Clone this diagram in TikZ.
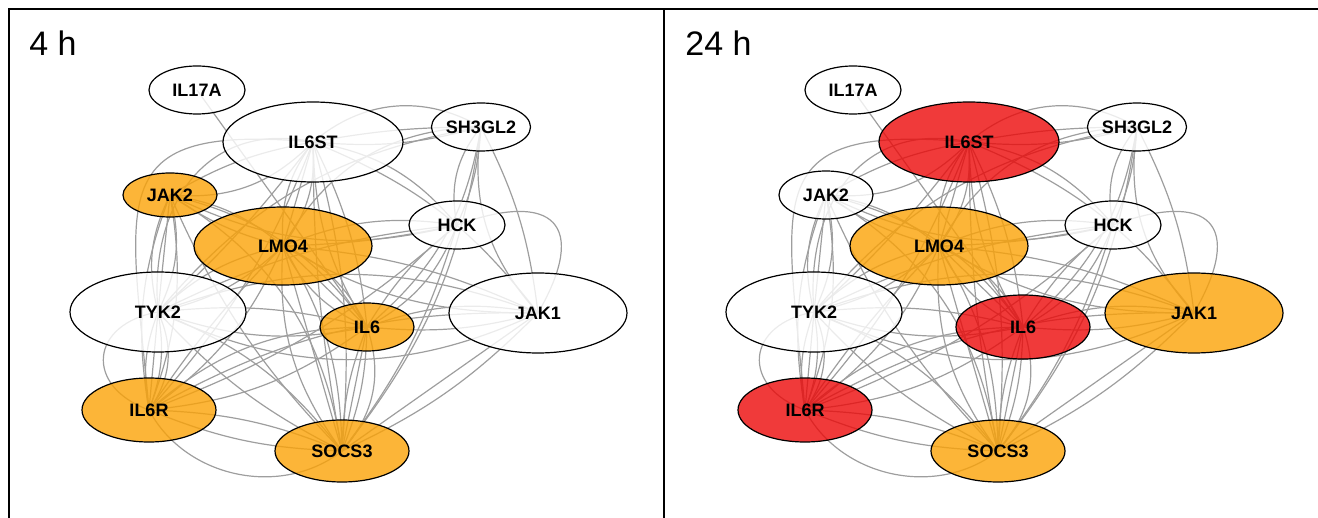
\documentclass[tikz,border=0pt]{standalone}
\usepackage{fontspec}
\setmainfont{Liberation Sans}
\usetikzlibrary{shapes.geometric,backgrounds}
% fill colours pre-compensated for fill opacity 0.8 over white
\definecolor{og}{RGB}{251,162,6}
\definecolor{rd}{RGB}{236,9,9}
\definecolor{eg}{RGB}{158,158,158}
\newcommand\labfont{\fontsize{9}{10}\selectfont\bfseries}
\tikzset{
 gn/.style={ellipse,draw=black,line width=0.6pt,inner sep=0pt,font=\labfont,fill=white,fill opacity=0.8,text opacity=1},
 ed/.style={draw=eg,line width=0.6pt},
 ttl/.style={anchor=west,font=\fontsize{17}{19}\selectfont,inner sep=0pt},
 frame/.style={line width=1pt,line cap=rect}
}
\newcommand\netedges{%
 \foreach \u/\v/\b in {a/i6/0,
   st/sh/35, st/sh/5, st/sh/-10, st/j2/-10, st/j2/25,
   st/lm/0, st/lm/20, st/lm/-20, st/ty/5, st/i6/10, st/i6/-15, st/so/10, st/so/-5,
   st/r/10, st/hc/20, st/j1/15,
   sh/hc/10, sh/hc/-25, sh/j1/-25, sh/j1/10, sh/i6/20, sh/so/15, sh/lm/-30, sh/ty/-20,
   hc/lm/5, hc/lm/-15, hc/i6/20, hc/i6/-10, hc/so/10, hc/r/10, hc/ty/-10,
   j2/lm/15, j2/lm/-10, j2/ty/20, j2/ty/-20, j2/ty/0, j2/r/15, j2/r/-15,
   j2/i6/20, j2/so/25, j2/so/-10, j2/hc/-20,
   lm/ty/15, lm/ty/-15, lm/i6/20, lm/i6/-20, lm/i6/0, lm/r/15, lm/r/-5,
   lm/so/15, lm/so/-20, lm/so/0, lm/j1/10, lm/j1/-15,
   ty/r/15, ty/r/-15, ty/r/0, ty/r/30, ty/i6/10, ty/i6/-15, ty/so/15, ty/so/-10, ty/j1/-25, ty/j1/20,
   i6/j1/15, i6/j1/-10, i6/so/10, i6/so/-10, i6/so/0, i6/so/30, i6/r/15, i6/r/-20,
   j1/so/0, j1/so/10, j1/r/-15,
   r/so/10, r/so/-10, r/so/-50}
   \draw[ed] (n\u.center) to[bend left=\b] (n\v.center);
 \draw[ed] (nst.center) to[out=175,in=95,looseness=1.75] (nr.center);
 \draw[ed] (nst.center) to[out=168,in=95,looseness=1.2] (nty.center);
 \draw[ed] (nhc.center) to[out=20,in=60,looseness=2.2] (nj1.center);
 \draw[ed] (nty.center) to[out=190,in=160,looseness=1.8] (nr.center);
}
\begin{document}
\begin{tikzpicture}[x=0.5pt,y=-0.5pt]
\useasboundingbox (0,0) rectangle (1318,518);
% frames
\coordinate (fbl) at (9,518);
\coordinate (ftl) at (9,9);
\coordinate (ftr) at (1318,9);
\coordinate (dtop) at (664,9);
\coordinate (dbot) at (664,518);
\draw[frame] (fbl) -- (ftl) -- (ftr);
\draw[frame] (dtop) -- (dbot);
% left panel
\begin{scope}[name prefix=L-]
\node[ttl] (title) at (29,43) {4 h};
\node[gn,minimum width=48pt,minimum height=24pt] (na) at (197,90) {IL17A};
\node[gn,minimum width=90pt,minimum height=40pt] (nst) at (313,142) {IL6ST};
\node[gn,minimum width=48pt,minimum height=24pt] (nsh) at (481,127) {SH3GL2};
\node[gn,fill=og,minimum width=47pt,minimum height=22pt] (nj2) at (170,195) {JAK2};
\node[gn,fill=og,minimum width=89pt,minimum height=39pt] (nlm) at (283,246) {LMO4};
\node[gn,minimum width=48pt,minimum height=24pt] (nhc) at (457,225) {HCK};
\node[gn,minimum width=88pt,minimum height=40pt] (nty) at (158,312) {TYK2};
\node[gn,fill=og,minimum width=47pt,minimum height=24pt] (ni6) at (367,327) {IL6};
\node[gn,minimum width=89pt,minimum height=40pt] (nj1) at (538,313) {JAK1};
\node[gn,fill=og,minimum width=67pt,minimum height=32pt] (nr) at (149,410) {IL6R};
\node[gn,fill=og,minimum width=67pt,minimum height=31pt] (nso) at (342,451) {SOCS3};
\begin{pgfonlayer}{background}\netedges\end{pgfonlayer}
\end{scope}
% right panel
\begin{scope}[xshift=328pt,name prefix=R-]
\node[ttl] (title) at (29,43) {24 h};
\node[gn,minimum width=48pt,minimum height=24pt] (na) at (197,90) {IL17A};
\node[gn,fill=rd,minimum width=90pt,minimum height=40pt] (nst) at (313,142) {IL6ST};
\node[gn,minimum width=48pt,minimum height=24pt] (nsh) at (481,127) {SH3GL2};
\node[gn,minimum width=47pt,minimum height=24pt] (nj2) at (170,195) {JAK2};
\node[gn,fill=og,minimum width=89pt,minimum height=39pt] (nlm) at (283,246) {LMO4};
\node[gn,minimum width=48pt,minimum height=24pt] (nhc) at (457,225) {HCK};
\node[gn,minimum width=88pt,minimum height=40pt] (nty) at (158,312) {TYK2};
\node[gn,fill=rd,minimum width=67pt,minimum height=32pt] (ni6) at (367,327) {IL6};
\node[gn,fill=og,minimum width=89pt,minimum height=40pt] (nj1) at (538,313) {JAK1};
\node[gn,fill=rd,minimum width=67pt,minimum height=32pt] (nr) at (149,410) {IL6R};
\node[gn,fill=og,minimum width=67pt,minimum height=31pt] (nso) at (342,451) {SOCS3};
\begin{pgfonlayer}{background}\netedges\end{pgfonlayer}
\end{scope}
\end{tikzpicture}
\end{document}
